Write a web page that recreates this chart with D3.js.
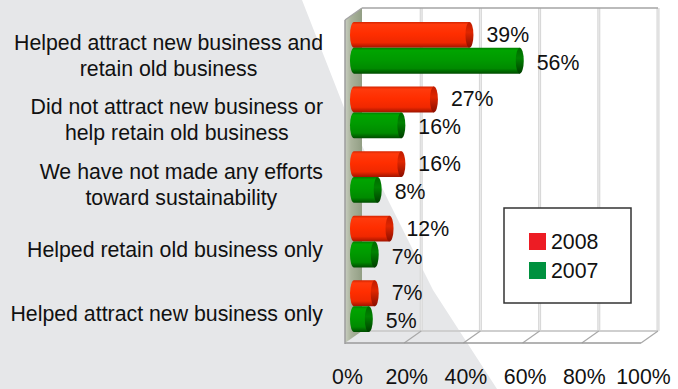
<!DOCTYPE html>
<html>
<head>
<meta charset="utf-8">
<script src="https://cdn.jsdelivr.net/npm/d3@7/dist/d3.min.js"></script>
<style>
  html, body { margin: 0; padding: 0; background: #ffffff; }
  svg { display: block; }
  text { font-family: "Liberation Sans", Arial, sans-serif; fill: #111; }
</style>
</head>
<body>
<svg id="chart" width="678" height="389"></svg>
<script>
// Survey results: effect of sustainability efforts on business
const categories = [
  ["Helped attract new business and", "retain old business"],
  ["Did not attract new business or", "help retain old business"],
  ["We have not made any efforts", "toward sustainability"],
  ["Helped retain old business only"],
  ["Helped attract new business only"]
];
const seriesNames = ["2008", "2007"];
const values2008 = [39, 27, 16, 12, 7];
const values2007 = [56, 16, 8, 7, 5];
const tickValues = [0, 20, 40, 60, 80, 100];
const tickLabels = ["0%", "20%", "40%", "60%", "80%", "100%"];

const svg = d3.select("#chart");
const fontSize = 21.3;

// decorative slide backdrop
svg.append("path")
  .attr("d", d3.line()([[0, 0], [302, 0], [345, 110], [388, 200], [433, 290], [497, 389], [0, 389]]) + "Z")
  .attr("fill", "#e6e7e9");

// 3D box geometry: back plane, depth offset to the front plane
const backTop = 8, backBottom = 331;
const DX = -17, DY = 12;
const x = d3.scaleLinear().domain([0, 100]).range([362, 658]);

const defs = svg.append("defs");
function vGrad(id, stops) {
  const g = defs.append("linearGradient").attr("id", id)
    .attr("x1", 0).attr("y1", 0).attr("x2", 0).attr("y2", 1);
  stops.forEach(s => g.append("stop").attr("offset", s[0]).attr("stop-color", s[1]));
}
vGrad("bar2008", [[0, "#d42400"], [0.1, "#ff3a0c"], [0.45, "#ff2e00"], [0.8, "#f02800"], [1, "#a01400"]]);
vGrad("bar2007", [[0, "#007e00"], [0.1, "#00a400"], [0.45, "#009a00"], [0.8, "#008a00"], [1, "#004c00"]]);
vGrad("cap2008", [[0, "#c01c00"], [0.4, "#e02600"], [1, "#8a0e00"]]);
vGrad("cap2007", [[0, "#006a00"], [0.4, "#008200"], [1, "#003e00"]]);
const wallG = defs.append("linearGradient").attr("id", "wall")
  .attr("x1", 0).attr("y1", 0).attr("x2", 1).attr("y2", 0);
wallG.append("stop").attr("offset", 0).attr("stop-color", "#c9cec1");
wallG.append("stop").attr("offset", 0.35).attr("stop-color", "#aab39c");
wallG.append("stop").attr("offset", 1).attr("stop-color", "#929e84");

const frame = svg.append("g");

// back wall gridlines
tickValues.filter(v => v > 0).forEach(v => {
  frame.append("line")
    .attr("x1", x(v)).attr("x2", x(v)).attr("y1", backTop).attr("y2", backBottom)
    .attr("stroke", "#d6d6d6").attr("stroke-width", 3);
  frame.append("line")
    .attr("x1", x(v)).attr("x2", x(v)).attr("y1", backTop).attr("y2", backBottom)
    .attr("stroke", "#ececec").attr("stroke-width", 1);
});
// top edge of the back wall
frame.append("line")
  .attr("x1", x(0)).attr("x2", x(100)).attr("y1", backTop).attr("y2", backTop)
  .attr("stroke", "#a4a4a4").attr("stroke-width", 1.5);

// floor
frame.append("line")
  .attr("x1", x(0)).attr("x2", x(100)).attr("y1", backBottom).attr("y2", backBottom)
  .attr("stroke", "#cfcfcf").attr("stroke-width", 2);
tickValues.filter(v => v > 0).forEach(v => {
  frame.append("line")
    .attr("x1", x(v)).attr("y1", backBottom)
    .attr("x2", x(v) + DX).attr("y2", backBottom + DY)
    .attr("stroke", "#a8a8a8").attr("stroke-width", 1.2);
});
frame.append("line")
  .attr("x1", x(0) + DX).attr("x2", x(100) + DX)
  .attr("y1", backBottom + DY).attr("y2", backBottom + DY)
  .attr("stroke", "#9a9a9a").attr("stroke-width", 1.5);

// left side wall
frame.append("path")
  .attr("d", `M${x(0) + DX},${backTop + DY}L${x(0)},${backTop}L${x(0)},${backBottom}L${x(0) + DX},${backBottom + DY}Z`)
  .attr("fill", "url(#wall)");
frame.append("line")
  .attr("x1", x(0) + DX).attr("x2", x(0) + DX)
  .attr("y1", backTop + DY).attr("y2", backBottom + DY + 1)
  .attr("stroke", "#9c9c9c").attr("stroke-width", 1.5);
frame.append("line")
  .attr("x1", x(0) + DX).attr("y1", backTop + DY)
  .attr("x2", x(0)).attr("y2", backTop)
  .attr("stroke", "#a4a4a4").attr("stroke-width", 1.5);

// bars sit half-way between the back and front planes
const midDX = -8, midDY = 7.5;
const y = d3.scaleBand()
  .domain(d3.range(categories.length))
  .range([backTop + midDY, backBottom + midDY])
  .paddingInner(0.2).paddingOuter(0.1);
const ys = d3.scaleBand().domain(seriesNames).range([0, y.bandwidth()]);
const rx = 4;
const labelShift = { "2008": -0.5, "2007": 1.5 };

const rows = categories.map((c, i) => ({
  i,
  bars: [
    { s: "2008", v: values2008[i] },
    { s: "2007", v: values2007[i] }
  ]
}));

const barLayer = svg.append("g");
const row = barLayer.selectAll("g.row").data(rows).join("g")
  .attr("class", "row")
  .attr("transform", d => `translate(0,${y(d.i)})`);

const bar = row.selectAll("g.bar").data(d => d.bars).join("g")
  .attr("class", "bar")
  .attr("transform", d => `translate(0,${ys(d.s)})`);

bar.append("path")
  .attr("d", d => {
    const x0 = x(0) + midDX, x1 = x(d.v) + midDX, h = ys.bandwidth(), ry = h / 2;
    return `M${x0},0L${x1},0L${x1},${h}L${x0},${h}A${rx},${ry} 0 0 1 ${x0},0Z`;
  })
  .attr("fill", d => `url(#bar${d.s})`);
bar.append("ellipse")
  .attr("cx", d => x(d.v) + midDX)
  .attr("cy", ys.bandwidth() / 2)
  .attr("rx", rx).attr("ry", ys.bandwidth() / 2)
  .attr("fill", d => `url(#cap${d.s})`);

// value labels
bar.append("text")
  .attr("x", d => x(d.v) + midDX + rx + 13)
  .attr("y", d => ys.bandwidth() / 2 + 7.5 + labelShift[d.s])
  .attr("font-size", fontSize)
  .text(d => d.v + "%");

// category labels (lines centred, block right-aligned)
const labelRight = 323;
const catG = svg.append("g");
categories.forEach((lines, i) => {
  const cy = y(i) + y.bandwidth() / 2 + 7.5;
  const g = catG.append("g");
  const n = lines.length;
  const texts = lines.map((line, k) => g.append("text")
    .attr("font-size", fontSize)
    .attr("text-anchor", "middle")
    .attr("y", cy + 7.5 + (k - (n - 1) / 2) * 26)
    .text(line));
  const maxW = d3.max(texts, t => t.node().getComputedTextLength());
  texts.forEach(t => t.attr("x", labelRight - maxW / 2));
});

// value axis along the front edge
const axis = d3.axisBottom(x)
  .tickValues(tickValues)
  .tickFormat((d, i) => tickLabels[i])
  .tickSize(0).tickPadding(0);
const axisG = svg.append("g")
  .attr("transform", `translate(${DX + 2},368)`)
  .call(axis);
axisG.select(".domain").remove();
axisG.selectAll("text")
  .attr("font-size", fontSize)
  .attr("font-family", "'Liberation Sans', Arial, sans-serif")
  .attr("fill", "#111")
  .attr("dy", 0).attr("y", 16);

// legend
const legend = svg.append("g").attr("transform", "translate(504,208)");
legend.append("rect")
  .attr("width", 127).attr("height", 95)
  .attr("fill", "#ffffff").attr("stroke", "#333").attr("stroke-width", 1.5);
const legendColors = { "2008": "#ed1c24", "2007": "#00913f" };
seriesNames.forEach((s, k) => {
  legend.append("rect")
    .attr("x", 25).attr("y", 25 + k * 29)
    .attr("width", 17).attr("height", 17)
    .attr("fill", legendColors[s]);
  legend.append("text")
    .attr("x", 47).attr("y", 41 + k * 29)
    .attr("font-size", fontSize)
    .text(s);
});
</script>
</body>
</html>
